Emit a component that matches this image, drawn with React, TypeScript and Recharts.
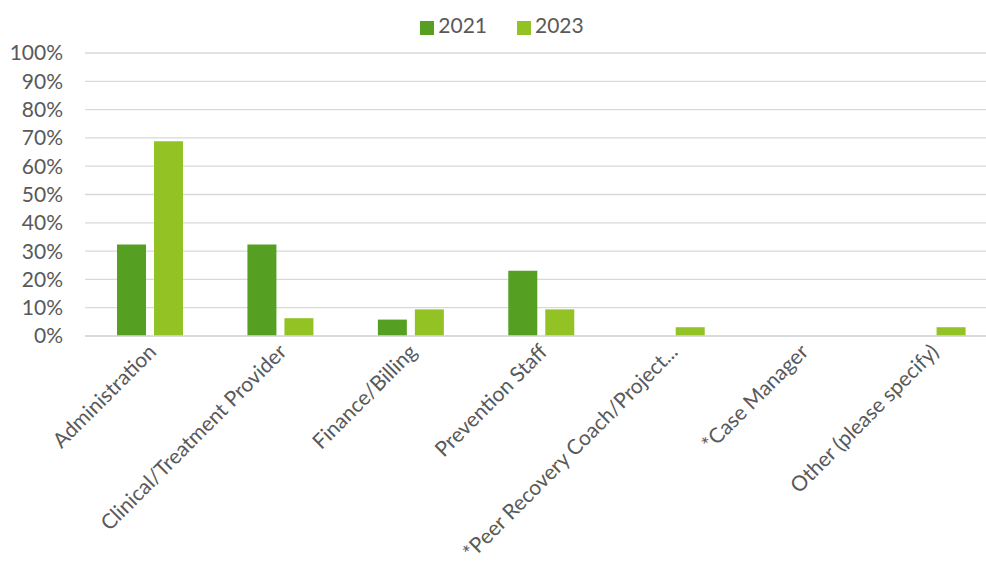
import React from "react";
import { BarChart, Bar, XAxis, YAxis, CartesianGrid, Legend } from "recharts";

const categories = [
  "Administration",
  "Clinical/Treatment Provider",
  "Finance/Billing",
  "Prevention Staff",
  "*Peer Recovery Coach/Project...",
  "*Case Manager",
  "Other (please specify)",
];
const values2021 = [32.3, 32.3, 5.8, 23.1, 0, 0, 0];
const values2023 = [68.8, 6.3, 9.4, 9.4, 3.1, 0, 3.1];
const yTicks = [0, 10, 20, 30, 40, 50, 60, 70, 80, 90, 100];

const data = categories.map((c, i) => ({
  name: c,
  y2021: values2021[i],
  y2023: values2023[i],
}));

const FONT = "Lato, 'Open Sans', sans-serif";
const TEXT = "#595959";

const XTick = (props: any) => {
  const { x, y, payload } = props;
  return (
    <g transform={`translate(${x + 2},${y + 4})`}>
      <text
        transform="rotate(-45)"
        textAnchor="end"
        dy="0.35em"
        fill={TEXT}
        fontSize={21}
        fontFamily={FONT}
      >
        {payload.value}
      </text>
    </g>
  );
};

export default function App() {
  return (
    <div style={{ position: "absolute", left: 0, top: 0, width: 986, height: 571, overflow: "hidden" }}>
      <BarChart
        width={998}
        height={571}
        data={data}
        margin={{ top: 28, right: 0, bottom: 0, left: 0 }}
        barGap={8}
        barCategoryGap={32}
      >
        <CartesianGrid vertical={false} stroke="#d9d9d9" strokeWidth={1.3} />
        <XAxis
          dataKey="name"
          interval={0}
          height={235}
          tick={<XTick />}
          tickLine={false}
          axisLine={{ stroke: "#d9d9d9", strokeWidth: 1.3 }}
        />
        <YAxis
          domain={[0, 100]}
          ticks={yTicks}
          interval={0}
          width={85}
          tickSize={0}
          tickMargin={22}
          axisLine={false}
          tickLine={false}
          tickFormatter={(v: number) => `${v}%`}
          tick={{ fill: TEXT, fontSize: 21, fontFamily: FONT }}
        />
        <Legend
          verticalAlign="top"
          align="center"
          iconType="square"
          iconSize={14}
          wrapperStyle={{ top: 12, left: 18, width: 998, fontFamily: FONT, fontSize: 21 }}
          formatter={(v: string) => <span style={{ color: TEXT, marginRight: 20 }}>{v}</span>}
        />
        <Bar dataKey="y2021" name="2021" fill="#55a023" isAnimationActive={false} />
        <Bar dataKey="y2023" name="2023" fill="#93c225" isAnimationActive={false} />
      </BarChart>
    </div>
  );
}
